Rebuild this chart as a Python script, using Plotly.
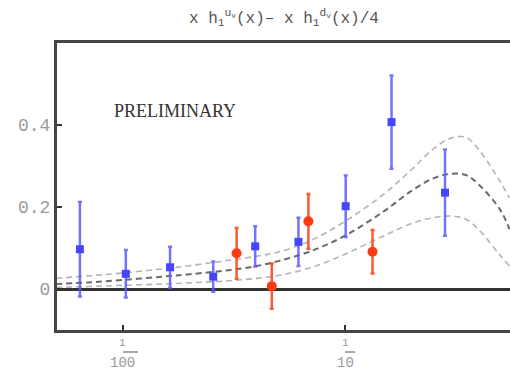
import math
import plotly.graph_objects as go

# Measured points (x on a log scale)
blue_x = [0.0064, 0.0103, 0.0163, 0.0255, 0.0394, 0.0617, 0.1007, 0.162, 0.282]
blue_y = [0.097, 0.037, 0.053, 0.030, 0.104, 0.115, 0.202, 0.407, 0.235]
blue_err = [0.115, 0.058, 0.050, 0.037, 0.049, 0.059, 0.075, 0.114, 0.105]

red_x = [0.0325, 0.0468, 0.0684, 0.133]
red_y = [0.087, 0.007, 0.165, 0.091]
red_err = [0.062, 0.055, 0.067, 0.053]

# Model curves: central value and upper / lower band
curve_x = [0.005, 0.007, 0.01, 0.015, 0.02, 0.03, 0.04, 0.05, 0.07, 0.1,
           0.15, 0.2, 0.25, 0.3, 0.35, 0.4, 0.5, 0.55]
curve_upper = [0.026, 0.032, 0.039, 0.049, 0.057, 0.070, 0.080, 0.090, 0.118, 0.165,
               0.232, 0.292, 0.342, 0.368, 0.370, 0.340, 0.262, 0.222]
curve_mid = [0.012, 0.016, 0.022, 0.030, 0.036, 0.046, 0.056, 0.068, 0.092, 0.130,
             0.190, 0.240, 0.270, 0.281, 0.278, 0.255, 0.193, 0.146]
curve_lower = [0.004, 0.006, 0.009, 0.012, 0.015, 0.020, 0.026, 0.033, 0.052, 0.085,
               0.130, 0.160, 0.174, 0.178, 0.170, 0.145, 0.082, 0.056]

y_tick_vals = [0, 0.2, 0.4]
y_tick_text = ["0", "0.2", "0.4"]
x_tick_vals = [0.01, 0.1]
x_tick_num = ["1", "1"]
x_tick_den = ["100", "10"]

title_text = ("x h<sub>1</sub><sup>u<sub>v</sub></sup>(x)\u2013 "
              "x h<sub>1</sub><sup>d<sub>v</sub></sup>(x)/4")
label_text = "PRELIMINARY"

mono = "Courier New, Liberation Mono, monospace"
tick_grey = "#9a9a9a"

fig = go.Figure()

for ys, col, w in [(curve_upper, "#b4b4b4", 1.6),
                   (curve_lower, "#b4b4b4", 1.6),
                   (curve_mid, "#6a6a6a", 2.0)]:
    fig.add_trace(go.Scatter(
        x=curve_x, y=ys, mode="lines", line_shape="spline",
        line=dict(color=col, width=w, dash="6px,4px"),
        hoverinfo="skip", showlegend=False))

fig.add_trace(go.Scatter(
    x=blue_x, y=blue_y, mode="markers",
    marker=dict(symbol="square", size=8, color="#4545ff"),
    error_y=dict(type="data", array=blue_err, visible=True,
                 color="rgba(90,90,255,0.85)", thickness=2.5, width=2),
    showlegend=False))

fig.add_trace(go.Scatter(
    x=red_x, y=red_y, mode="markers",
    marker=dict(symbol="circle", size=10, color="#ff3a10"),
    error_y=dict(type="data", array=red_err, visible=True,
                 color="rgba(255,70,30,0.9)", thickness=2.5, width=2),
    showlegend=False))

annotations = [
    dict(text=title_text, xref="paper", yref="paper", x=0.50, y=1.0,
         xanchor="center", yanchor="bottom", yshift=12, showarrow=False,
         font=dict(family=mono, size=16, color="#555555")),
    dict(text=label_text, xref="paper", yref="y", x=0.26, y=0.435,
         xanchor="center", yanchor="middle", showarrow=False,
         font=dict(family="Liberation Serif, Times New Roman, serif",
                   size=18, color="#333333")),
]
shapes = []
# Fraction-style tick labels under the log axis (annotation x is log10 on log axes)
for xv, num, den in zip(x_tick_vals, x_tick_num, x_tick_den):
    lx = math.log10(xv)
    annotations.append(dict(text=num, xref="x", yref="paper", x=lx, y=0,
                            xanchor="center", yanchor="top", yshift=-5,
                            showarrow=False,
                            font=dict(family=mono, size=11, color=tick_grey)))
    annotations.append(dict(text=den, xref="x", yref="paper", x=lx, y=0,
                            xanchor="center", yanchor="top", yshift=-24,
                            showarrow=False, borderpad=0,
                            font=dict(family=mono, size=14, color=tick_grey)))
    half = 5 * len(den)
    shapes.append(dict(type="line", xref="x", yref="paper",
                       xsizemode="pixel", xanchor=xv, x0=-half, x1=half,
                       ysizemode="pixel", yanchor=0, y0=-22, y1=-22,
                       line=dict(color="#a8a8a8", width=2)))

fig.update_layout(
    width=510, height=373,
    margin=dict(l=57, r=0, t=43, b=43),
    paper_bgcolor="white", plot_bgcolor="white",
    annotations=annotations, shapes=shapes,
    xaxis=dict(type="log", range=[-2.297, -0.257],
               showgrid=False, zeroline=False,
               showline=True, linecolor="#444444", linewidth=3, mirror=True,
               tickvals=x_tick_vals, ticktext=["", ""],
               ticks="inside", ticklen=5, tickwidth=2, tickcolor="#333333"),
    yaxis=dict(range=[-0.1, 0.6], showgrid=False,
               zeroline=True, zerolinecolor="#333333", zerolinewidth=3,
               showline=True, linecolor="#444444", linewidth=3, mirror=False,
               tickvals=y_tick_vals, ticktext=y_tick_text,
               ticks="inside", ticklen=5, tickwidth=2, tickcolor="#333333",
               tickfont=dict(family=mono, size=18, color=tick_grey)),
)

fig.write_html("out.html")
